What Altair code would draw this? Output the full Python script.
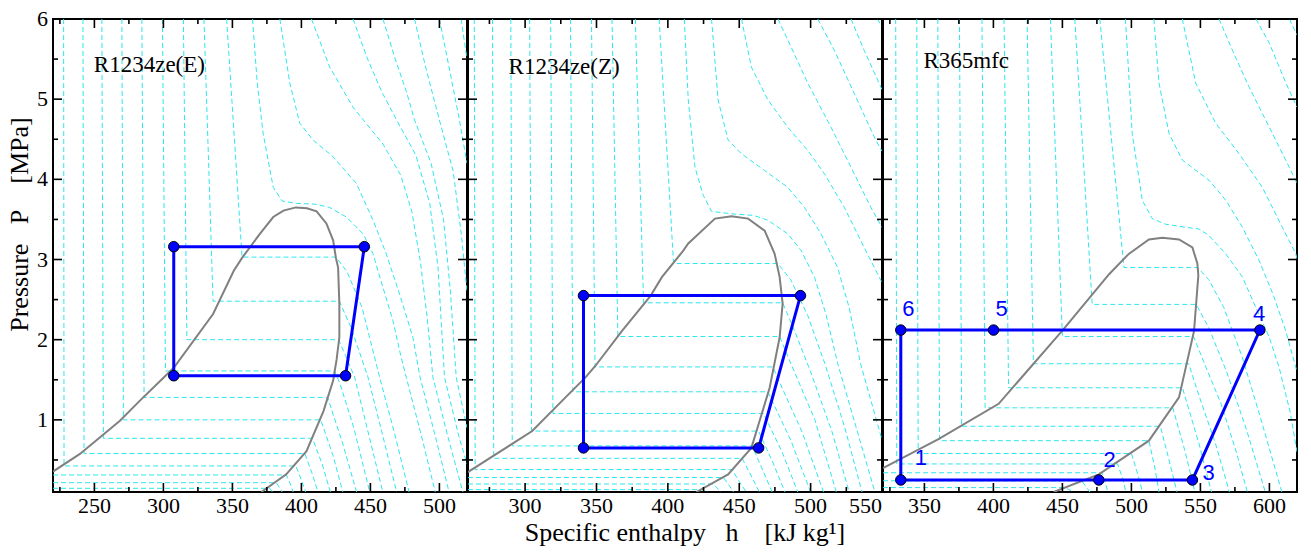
import altair as alt
import pandas as pd

# ---------------- data ----------------
# Panel 1 : R1234ze(E)
P1_NAME = "R1234ze(E)"
P1_NAME_POS = (249.6, 5.42)
P1_XDOM = [220, 520]
P1_XMAJOR = [250, 300, 350, 400, 450, 500]
P1_XMINOR = [225, 275, 325, 375, 425, 475]
P1_DOME_H = [220, 239.5, 268.5, 283, 307.5, 336, 351, 357, 369.9, 379.6, 387, 396, 404, 411,
             418.1, 423, 425, 426.6, 427.5, 427.5, 425.5, 423, 416, 403.7, 389, 371]
P1_DOME_P = [0.355, 0.575, 0.99, 1.24, 1.65, 2.32, 2.86, 3.02, 3.32, 3.53, 3.61, 3.65, 3.64, 3.6,
             3.45, 3.24, 3.02, 2.9, 2.45, 2.03, 1.75, 1.49, 1.11, 0.61, 0.32, 0.1]
P1_CYCLE_H = [307.5, 307.5, 445.6, 432.0, 307.5]
P1_CYCLE_P = [1.55, 3.16, 3.16, 1.55, 1.55]
P1_ISO = [
    [(220, 0.146), (377, 0.146), (379, 0.1)],
    [(220, 0.216), (382, 0.216), (386, 0.1)],
    [(220, 0.3125), (389, 0.3125), (392, 0.2), (394, 0.1)],
    [(227.7, 6), (228, 0.425), (396, 0.425), (400, 0.25), (403, 0.1)],
    [(241.7, 6), (242.5, 0.58), (402.5, 0.58), (408, 0.32), (412, 0.1)],
    [(255.4, 6), (256.5, 0.77), (408, 0.77), (415, 0.45), (421, 0.1)],
    [(269.9, 6), (271, 1.0), (414, 1.0), (423, 0.55), (430, 0.1)],
    [(284.4, 6), (286, 1.28), (419, 1.28), (430, 0.7), (440, 0.1)],
    [(299.3, 6), (301.5, 1.61), (424, 1.61), (428, 1.45), (438, 0.9), (449.5, 0.1)],
    [(314.5, 6), (317, 2.0), (427, 2.0), (432, 1.8), (438.6, 1.53), (449, 0.8), (459, 0.1)],
    [(329.4, 6), (336, 2.48), (427.5, 2.48), (436, 2.15), (448.3, 1.53), (459, 0.8), (469, 0.1)],
    [(345.8, 6), (357, 3.03), (425, 3.03), (433, 2.85), (444, 2.4), (456.7, 1.53), (468, 0.8), (478, 0.1)],
    [(364.6, 6), (368, 5.2), (372.3, 4.57), (379.6, 3.9), (386, 3.73), (396.4, 3.70), (410, 3.69),
     (420.5, 3.65), (432.6, 3.53), (444.7, 3.32), (451.9, 3.07), (459.1, 2.65), (466.3, 2.24),
     (472, 1.8), (476, 1.53), (487, 0.8), (497, 0.1)],
    [(384.4, 6), (391.6, 5.2), (398.8, 4.7), (408.5, 4.49), (423, 4.28), (439.8, 3.95), (451.9, 3.49),
     (461.5, 3.07), (471.1, 2.57), (480.8, 2.03), (486, 1.53), (497, 0.8), (507, 0.1)],
    [(407.3, 6), (420.5, 5.4), (437.4, 4.9), (459.1, 4.44), (472, 4.05), (480, 3.6), (486, 3.0),
     (491, 2.3), (495.3, 1.53), (506, 0.8), (517, 0.1)],
    [(437.4, 6), (448, 5.5), (458, 5.1), (469, 4.74), (483, 4.3), (493, 3.7), (499, 2.9),
     (503.7, 1.53), (514, 0.8), (520, 0.45)],
    [(459.1, 6), (468, 5.5), (476, 5.1), (482, 4.74), (494, 4.2), (503, 3.5), (508, 2.6),
     (512.2, 1.53), (520, 0.9)],
    [(482, 6), (490, 5.4), (500, 4.74), (510, 4.1), (516, 3.3), (520, 2.6)],
    [(500, 6), (507, 5.4), (514.5, 4.74), (520, 4.2)],
    [(515.7, 6), (520, 5.5)],
]

# Panel 2 : R1234ze(Z)
P2_NAME = "R1234ze(Z)"
P2_NAME_POS = (288.4, 5.4)
P2_XDOM = [260, 550]
P2_XMAJOR = [300, 350, 400, 450, 500, 550]
P2_XMINOR = [275, 325, 375, 425, 475, 525]
P2_DOME_H = [260, 261, 305, 328.3, 342.3, 349.3, 367.9, 388, 395.8, 410.8, 414.3, 433, 444.6, 456.2,
             467.8, 474.8, 478.3, 480.4, 478.3, 471.3, 458.5, 442.2, 420]
P2_DOME_P = [0.345, 0.36, 0.86, 1.28, 1.53, 1.675, 2.11, 2.55, 2.78, 3.11, 3.2, 3.51, 3.54, 3.51,
             3.36, 3.07, 2.78, 2.45, 2.03, 1.4, 0.65, 0.32, 0.1]
P2_CYCLE_H = [340.9, 340.9, 492.9, 463.6, 340.9]
P2_CYCLE_P = [0.65, 2.55, 2.55, 0.65, 0.65]
P2_ISO = [
    [(260, 0.13), (424, 0.13), (428, 0.1)],
    [(260, 0.2), (432, 0.2), (437, 0.1)],
    [(260, 0.28), (439, 0.28), (443, 0.18), (446, 0.1)],
    [(264.4, 6), (265, 0.38), (445, 0.38), (451, 0.2), (455, 0.1)],
    [(277.2, 6), (278, 0.52), (452, 0.52), (459, 0.28), (464, 0.1)],
    [(290, 6), (291, 0.675), (459, 0.675), (467, 0.35), (473, 0.1)],
    [(303.2, 6), (304.5, 0.86), (463.5, 0.86), (474, 0.45), (482, 0.1)],
    [(317.9, 6), (319.5, 1.08), (467, 1.08), (480, 0.6), (491, 0.1)],
    [(331.8, 6), (333.5, 1.35), (470, 1.35), (486, 0.75), (500, 0.1)],
    [(346.5, 6), (349, 1.66), (473.5, 1.66), (480, 1.4), (494, 0.85), (509, 0.1)],
    [(360.9, 6), (365, 2.04), (478.3, 2.04), (485, 1.75), (503, 1.0), (518, 0.1)],
    [(377.2, 6), (383, 2.46), (480.4, 2.46), (489, 2.1), (500, 1.6), (515, 0.85), (527, 0.1)],
    [(393.9, 6), (404, 2.95), (477, 2.95), (486, 2.75), (498, 2.3), (510, 1.7), (524, 0.9), (536, 0.1)],
    [(411.5, 6), (414.3, 4.99), (419, 4.15), (424.8, 3.8), (430.6, 3.6), (444.6, 3.57), (460, 3.55),
     (470.1, 3.49), (484, 3.32), (493.4, 3.11), (502.7, 2.78), (511, 2.3), (519, 1.7), (532, 0.9),
     (545, 0.1)],
    [(430.6, 6), (435.2, 4.99), (442.2, 4.49), (451.5, 4.32), (467.8, 4.11), (484, 3.90), (495.7, 3.65),
     (507.3, 3.32), (518.9, 2.9), (527, 2.4), (535, 1.7), (550, 0.75)],
    [(451.6, 6), (458.5, 5.4), (470.1, 4.99), (484, 4.65), (498, 4.36), (509.7, 4.07), (523.6, 3.65),
     (537.5, 3.15), (549.2, 2.74), (550, 2.7)],
    [(477.1, 6), (484, 5.74), (498, 5.2), (514.3, 4.65), (528.3, 4.15), (542.2, 3.65), (550, 3.4)],
    [(505, 6), (516.6, 5.61), (530.6, 5.07), (544.5, 4.53), (550, 4.35)],
    [(528.3, 6), (537.5, 5.61), (549.2, 5.15), (550, 5.12)],
    [(546.8, 6), (550, 5.9)],
]

# Panel 3 : R365mfc
P3_NAME = "R365mfc"
P3_NAME_POS = (349.3, 5.475)
P3_XDOM = [320, 620]
P3_XMAJOR = [350, 400, 450, 500, 550, 600]
P3_XMINOR = [325, 375, 425, 475, 525, 575]
P3_DOME_H = [320, 360.2, 403.8, 449.8, 484, 498.1, 512.7, 522.4, 534.5, 544.2, 547.8, 548.5,
             545.4, 534.5, 512.7, 476.4, 443.7]
P3_DOME_P = [0.398, 0.76, 1.2, 2.11, 2.82, 3.07, 3.25, 3.27, 3.25, 3.15, 2.95, 2.8,
             2.11, 1.28, 0.74, 0.32, 0.1]
P3_CYCLE_H = [332.9, 476.4, 544.2, 593.1, 400.1, 332.9, 332.9]
P3_CYCLE_P = [0.25, 0.25, 0.25, 2.12, 2.12, 2.12, 0.25]
P3_STATE_TEXT = ["1", "2", "3", "4", "5", "6"]
P3_STATE_H = [347.5, 484.3, 556.0, 592.6, 405.9, 338.4]
P3_STATE_P = [0.53, 0.50, 0.34, 2.325, 2.38, 2.38]
P3_ISO = [
    [(320, 0.155), (452, 0.155), (458, 0.1)],
    [(320, 0.24), (464, 0.24), (467, 0.17), (470, 0.1)],
    [(320, 0.34), (478.5, 0.34), (481, 0.22), (483, 0.1)],
    [(329.2, 6), (330, 0.45), (490, 0.45), (494, 0.25), (496, 0.1)],
    [(344.5, 6), (345.5, 0.58), (500, 0.58), (505, 0.3), (508, 0.1)],
    [(359.7, 6), (361, 0.74), (512.7, 0.74), (517, 0.4), (520, 0.1)],
    [(375.4, 6), (377, 0.92), (521, 0.92), (528, 0.45), (533, 0.1)],
    [(391.7, 6), (394, 1.15), (530, 1.15), (539, 0.6), (546, 0.1)],
    [(407.7, 6), (411, 1.40), (537, 1.40), (549, 0.7), (558, 0.1)],
    [(424.4, 6), (429, 1.70), (541.5, 1.70), (549, 1.3), (561, 0.7), (571, 0.1)],
    [(441.3, 6), (450, 2.04), (545, 2.04), (553, 1.7), (565, 1.2), (576, 0.6), (584, 0.1)],
    [(459, 6), (471.6, 2.44), (547, 2.44), (556, 2.15), (569, 1.6), (583, 0.9), (597, 0.1)],
    [(477.1, 6), (494.6, 2.9), (548, 2.9), (556, 2.75), (567, 2.4), (580, 1.8), (594, 1.0), (609, 0.1)],
    [(495.7, 6), (500.6, 4.57), (507.9, 3.74), (515.1, 3.51), (524.8, 3.44), (540, 3.4), (549, 3.38),
     (556.2, 3.3), (568.4, 3.07), (580.5, 2.78), (590.2, 2.40), (599.9, 2.03), (607.1, 1.65),
     (615, 1.1), (620, 0.6)],
    [(516.3, 6), (520, 5.2), (527.3, 4.57), (536.9, 4.24), (556.2, 3.99), (568.4, 3.74), (580.5, 3.40),
     (592.5, 2.99), (603, 2.55), (612, 2.1), (620, 1.6)],
    [(536.9, 6), (546.6, 5.2), (561.1, 4.7), (578, 4.32), (594.9, 3.90), (609.4, 3.40), (619.2, 3.07),
     (620, 3.0)],
    [(563.5, 6), (573.2, 5.61), (585.3, 5.15), (599.9, 4.65), (614.4, 4.15), (620, 3.95)],
    [(590.2, 6), (599.9, 5.7), (612, 5.2), (620, 4.9)],
    [(614.4, 6), (620, 5.8)],
]

Y_DOMAIN = [0.1, 6]
Y_MAJOR = [1, 2, 3, 4, 5, 6]
Y_MINOR = [0.5, 1.5, 2.5, 3.5, 4.5, 5.5]
X_TITLE = "Specific enthalpy\u00a0\u00a0\u00a0h\u00a0\u00a0\u00a0\u00a0[kJ kg\u00b9]"
Y_TITLE = "Pressure\u00a0\u00a0\u00a0P\u00a0\u00a0\u00a0\u00a0[MPa]"

# ---------------- styling ----------------
W, H = 414, 473
TK = 9            # major tick length (drawn inward)
TKM = 5           # minor tick length (drawn inward)
SERIF = "Liberation Serif"
SANS = "Liberation Sans"
BLUE = "#0000ff"
CYAN = "#2ee6ee"
GRAY = "#808080"
LABEL_SIZE = 22


def tick_marks(values, xs, ys, side, length):
    """Inward tick marks on one side of the frame, placed by the panel's scale."""
    df = pd.DataFrame({"v": values})
    if side in ("bottom", "top"):
        m = alt.Chart(df).mark_tick(color="black", thickness=1.6, size=length, orient="vertical",
                                    opacity=1)
        yc = H - length / 2 if side == "bottom" else length / 2
        return m.encode(x=alt.X("v:Q", scale=xs, axis=None), y=alt.value(yc))
    m = alt.Chart(df).mark_tick(color="black", thickness=1.6, size=length, orient="horizontal",
                                opacity=1)
    xc = length / 2 if side == "left" else W - length / 2
    return m.encode(y=alt.Y("v:Q", scale=ys, axis=None), x=alt.value(xc))


def x_tick_labels(values, xs, align):
    df = pd.DataFrame({"v": values})
    return alt.Chart(df).mark_text(font=SERIF, fontSize=LABEL_SIZE, color="black", align=align,
                                   baseline="top", dy=4).encode(
        x=alt.X("v:Q", scale=xs, axis=None), y=alt.value(H), text=alt.Text("v:Q", format="d"))


def y_tick_labels(values, ys):
    df = pd.DataFrame({"v": values})
    return alt.Chart(df).mark_text(font=SERIF, fontSize=LABEL_SIZE, color="black", align="right",
                                   baseline="middle", dx=-5).encode(
        y=alt.Y("v:Q", scale=ys, axis=None), x=alt.value(0), text=alt.Text("v:Q", format="d"))


def make_panel(name, name_pos, xdom, x_major, x_minor, dome_h, dome_p, cyc_h, cyc_p, iso,
               show_ylabels, states=None):
    xs = alt.Scale(domain=xdom, nice=False, zero=False)
    ys = alt.Scale(domain=Y_DOMAIN, nice=False, zero=False)

    iso_rows = []
    for i, line in enumerate(iso):
        for j, (h, p) in enumerate(line):
            iso_rows.append({"h": h, "P": p, "iso": i, "seq": j})
    iso_df = pd.DataFrame(iso_rows)
    dome_df = pd.DataFrame({"h": dome_h, "P": dome_p, "seq": list(range(len(dome_h)))})
    cyc_df = pd.DataFrame({"h": cyc_h, "P": cyc_p, "seq": list(range(len(cyc_h)))})
    pts_df = cyc_df.iloc[:-1]
    name_df = pd.DataFrame({"h": [name_pos[0]], "P": [name_pos[1]], "t": [name]})

    X = lambda f: alt.X(f, scale=xs, axis=None)
    Y = lambda f: alt.Y(f, scale=ys, axis=None)

    iso_layer = alt.Chart(iso_df).mark_line(color=CYAN, strokeWidth=1, strokeDash=[5, 3], clip=True).encode(
        x=X("h:Q"), y=Y("P:Q"), detail="iso:N", order="seq:Q")
    dome_layer = alt.Chart(dome_df).mark_line(color=GRAY, strokeWidth=2, clip=True).encode(
        x=X("h:Q"), y=Y("P:Q"), order="seq:Q")
    cyc_layer = alt.Chart(cyc_df).mark_line(color=BLUE, strokeWidth=3).encode(
        x=X("h:Q"), y=Y("P:Q"), order="seq:Q")
    pts_layer = alt.Chart(pts_df).mark_circle(size=110, color=BLUE, opacity=1, stroke="black",
                                              strokeWidth=1).encode(x=X("h:Q"), y=Y("P:Q"))
    name_layer = alt.Chart(name_df).mark_text(font=SERIF, fontSize=23, color="black", align="left",
                                              baseline="middle").encode(
        x=X("h:Q"), y=Y("P:Q"), text="t:N")
    ticks = [
        tick_marks(x_major, xs, ys, "bottom", TK), tick_marks(x_minor, xs, ys, "bottom", TKM),
        tick_marks(x_major, xs, ys, "top", TK), tick_marks(x_minor, xs, ys, "top", TKM),
        tick_marks(Y_MAJOR, xs, ys, "left", TK), tick_marks(Y_MINOR, xs, ys, "left", TKM),
        tick_marks(Y_MAJOR, xs, ys, "right", TK), tick_marks(Y_MINOR, xs, ys, "right", TKM),
    ]
    inner = [v for v in x_major if v < xdom[1]]
    edge = [v for v in x_major if v >= xdom[1]]
    labels = [x_tick_labels(inner, xs, "center")]
    if edge:
        labels.append(x_tick_labels(edge, xs, "right"))
    if show_ylabels:
        labels.append(y_tick_labels(Y_MAJOR, ys))
    layers = [iso_layer, dome_layer, cyc_layer, pts_layer, name_layer] + labels + ticks
    if states is not None:
        st_df = pd.DataFrame({"h": states[1], "P": states[2], "t": states[0]})
        layers.append(alt.Chart(st_df).mark_text(font=SANS, fontSize=22, color=BLUE, align="center",
                                                 baseline="middle").encode(
            x=X("h:Q"), y=Y("P:Q"), text="t:N"))
    return alt.layer(*layers).properties(width=W, height=H)


p1 = make_panel(P1_NAME, P1_NAME_POS, P1_XDOM, P1_XMAJOR, P1_XMINOR, P1_DOME_H, P1_DOME_P,
                P1_CYCLE_H, P1_CYCLE_P, P1_ISO, True).properties(
    title=alt.TitleParams(Y_TITLE, orient="left", anchor="middle", font=SERIF, fontSize=26,
                          fontWeight="normal", color="black", offset=4, dx=31))
p2 = make_panel(P2_NAME, P2_NAME_POS, P2_XDOM, P2_XMAJOR, P2_XMINOR, P2_DOME_H, P2_DOME_P,
                P2_CYCLE_H, P2_CYCLE_P, P2_ISO, False)
p3 = make_panel(P3_NAME, P3_NAME_POS, P3_XDOM, P3_XMAJOR, P3_XMINOR, P3_DOME_H, P3_DOME_P,
                P3_CYCLE_H, P3_CYCLE_P, P3_ISO, False,
                states=(P3_STATE_TEXT, P3_STATE_H, P3_STATE_P))

chart = alt.hconcat(p1, p2, p3, spacing=1, bounds="flush").properties(
    title=alt.TitleParams(X_TITLE, orient="bottom", anchor="middle", font=SERIF, fontSize=26,
                          fontWeight="normal", color="black", offset=2, dx=33),
    padding={"left": 5, "top": 7, "right": 3, "bottom": 3},
).configure_view(stroke="black", strokeWidth=2)

chart.save("out.html", embed_options={"renderer": "svg", "actions": False})
